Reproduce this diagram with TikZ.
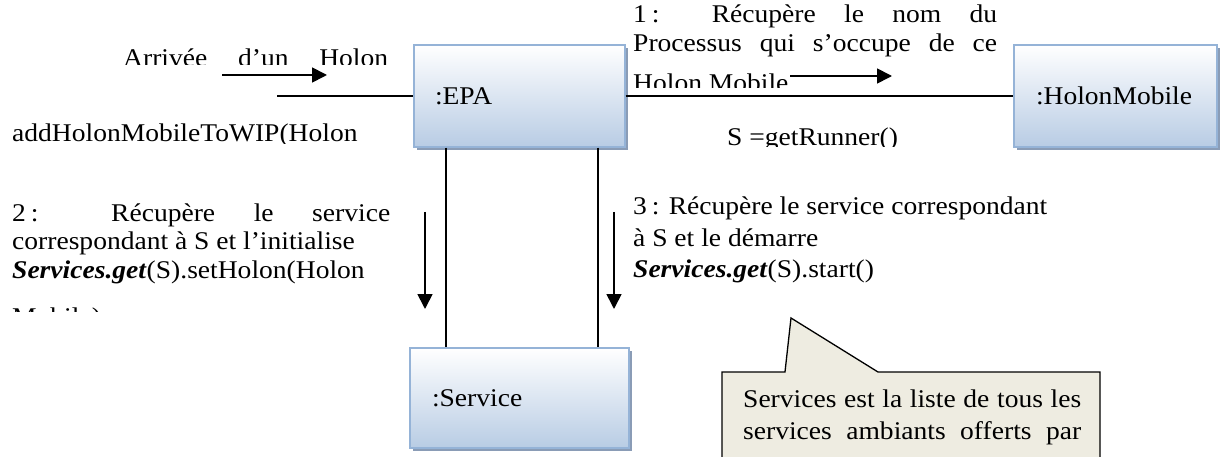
\documentclass[tikz,border=0pt]{standalone}
\usepackage{fontspec}
\setmainfont{Liberation Serif}[FakeStretch=1.08]
\usetikzlibrary{arrows.meta,shadows}
\definecolor{boxblue}{RGB}{184,204,228}
\definecolor{boxborder}{RGB}{149,179,215}
\definecolor{shadowc}{RGB}{138,156,182}
\definecolor{notefill}{RGB}{238,236,225}
\newcommand{\diafont}{\fontsize{25.5}{29.5}\selectfont}
\newcommand{\jline}[2]{\makebox[#1][s]{#2}}
\newcommand{\bi}[1]{\textbf{\textit{#1}}}
\begin{document}
\begin{tikzpicture}[x=1pt,y=-1pt,
  every node/.append style={font=\diafont},
  objbox/.style={draw=boxborder, line width=1.4pt, top color=white, bottom color=boxblue,
    inner sep=0pt, general shadow={fill=shadowc, shadow xshift=3pt, shadow yshift=-3pt}},
  link/.style={line width=1.3pt},
  msg/.style={line width=1.7pt, -{Triangle[length=15pt,width=15pt]}},
  txt/.style={anchor=base west, inner sep=0pt},
  note/.style={draw=black, line width=1.3pt, fill=notefill}]
\useasboundingbox (0,0) rectangle (1221,457);
\clip (0,0) rectangle (1221,457);

% objects
\node[objbox, minimum width=211pt, minimum height=102pt] (EPA) at (519.5,96) {\makebox[169pt][l]{:EPA}};
\node[objbox, minimum width=203pt, minimum height=102pt] (HM) at (1115.5,96) {\makebox[159pt][l]{:HolonMobile}};
\node[objbox, minimum width=219pt, minimum height=100pt] (SV) at (519.5,398) {\makebox[175pt][l]{:Service}};

% links
\coordinate (inL) at (277,96);
\draw[link] (inL) -- (EPA.west);
\draw[link] (EPA.east) -- (HM.west);
\coordinate (c1) at (446,0);
\coordinate (c2) at (598,0);
\draw[link] (EPA.south -| c1) -- (SV.north -| c1);
\draw[link] (EPA.south -| c2) -- (SV.north -| c2);

% message arrows
\coordinate (a0s) at (222,75); \coordinate (a0e) at (327,75);
\draw[msg] (a0s) -- (a0e);
\coordinate (a1s) at (790,76); \coordinate (a1e) at (892,76);
\draw[msg] (a1s) -- (a1e);
\coordinate (a2s) at (425,212); \coordinate (a2e) at (425,309);
\draw[msg] (a2s) -- (a2e);
\coordinate (a3s) at (614,212); \coordinate (a3e) at (614,309);
\draw[msg] (a3s) -- (a3e);

% texts (clipped text boxes)
\begin{scope}
  \clip (100,30) rectangle (400,64.5);
  \node[txt] (tArr) at (123,67) {\jline{265pt}{Arrivée d’un Holon}};
\end{scope}
\begin{scope}
  \clip (0,110) rectangle (400,143.5);
  \node[txt] (tAdd) at (12,142) {\jline{356pt}{addHolonMobileToWIP(Holon}};
\end{scope}
\begin{scope}
  \clip (620,0) rectangle (1010,88);
  \node[txt] (t1a) at (633,23) {\jline{364pt}{1\hspace{5pt}: Récupère le nom du}};
  \node[txt] (t1b) at (633,52) {\jline{364pt}{Processus qui s’occupe de ce}};
  \node[txt] (t1c) at (633,92) {Holon Mobile};
\end{scope}
\begin{scope}
  \clip (700,110) rectangle (1000,147);
  \node[txt] (tRun) at (727,146) {S =getRunner()};
\end{scope}
\begin{scope}
  \clip (0,190) rectangle (410,311);
  \node[txt] (t2a) at (12,222) {\jline{378pt}{2\hspace{5pt}: Récupère le service}};
  \node[txt] (t2b) at (12,250) {correspondant à S et l’initialise};
  \node[txt] (t2c) at (12,279) {\bi{Services.get}(S).setHolon(Holon};
  \node[txt] (t2d) at (12,325) {Mobile)};
\end{scope}
\node[txt] (t3a) at (633,215) {3\hspace{5pt}: Récupère le service correspondant};
\node[txt] (t3b) at (633,247) {à S et le démarre};
\node[txt] (t3c) at (633,277) {\bi{Services.get}(S).start()};

% callout note
\draw[note] (722,372) -- (785,372) -- (791,318) -- (878,372) -- (1100,372) -- (1100,480) -- (722,480) -- cycle;
\node[txt] (n1) at (743,407) {\jline{338pt}{Services est la liste de tous les}};
\node[txt] (n2) at (743,439) {\jline{338pt}{services ambiants offerts par}};
\end{tikzpicture}
\end{document}
